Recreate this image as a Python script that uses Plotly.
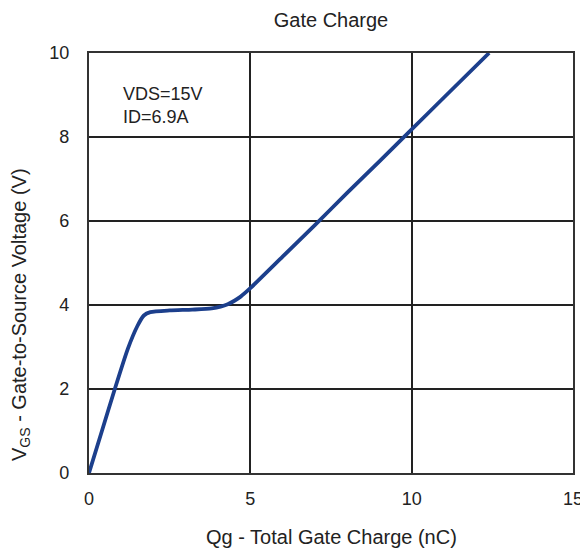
import plotly.graph_objects as go

qg = [0, 0.4, 0.8, 1.2, 1.5, 1.7, 1.9, 2.5, 3.2, 3.8, 4.3, 4.7, 5.0, 6, 7, 8, 9, 10, 11, 12.4]
vgs = [0, 1.0, 2.0, 2.95, 3.5, 3.75, 3.83, 3.87, 3.89, 3.92, 4.02, 4.2, 4.4, 5.15, 5.9, 6.67, 7.42, 8.18, 8.94, 10]
x_ticks = [0, 5, 10, 15]
y_ticks = [0, 2, 4, 6, 8, 10]

FONT = "Liberation Sans, Arial"
TXT = "#222"

# page body has an 8px margin: figure is shifted by (8, 8) in the window
W, H = 580, 542
ML, MR, MT, MB = 81, 15, 45, 77
PW, PH = W - ML - MR, H - MT - MB   # 484 x 420

fig = go.Figure()
fig.add_trace(go.Scatter(x=qg, y=vgs, mode="lines",
                         line=dict(color="#1c3f8c", width=3.8, shape="spline", smoothing=0.6),
                         showlegend=False, hoverinfo="skip"))

fig.add_annotation(x=1.0, y=9.3, xref="x", yref="y", text="VDS=15V<br>ID=6.9A",
                   showarrow=False, xanchor="left", yanchor="top", align="left",
                   font=dict(family=FONT, size=18, color=TXT))

# axis titles
fig.add_annotation(x=0.5, y=-64 / PH, xref="paper", yref="paper",
                   text="Qg - Total Gate Charge (nC)", showarrow=False,
                   xanchor="center", yanchor="middle",
                   font=dict(family=FONT, size=20, color=TXT))
fig.add_annotation(x=-69 / PW, y=158 / PH, xref="paper", yref="paper",
                   text="V<sub>GS</sub> - Gate-to-Source Voltage (V)", showarrow=False,
                   textangle=-90, xanchor="center", yanchor="middle",
                   font=dict(family=FONT, size=20, color=TXT))

axis_common = dict(showline=True, linecolor="#333", linewidth=2.2, mirror=True,
                   showgrid=True, gridcolor="#222", gridwidth=1.8, zeroline=False,
                   automargin=False, ticks="",
                   tickfont=dict(family=FONT, size=18, color=TXT))

fig.update_xaxes(range=[0, 15], tickvals=x_ticks, ticklabelstandoff=8, **axis_common)
fig.update_yaxes(range=[0, 10], tickvals=y_ticks, ticklabelstandoff=14, **axis_common)

fig.update_layout(
    width=W, height=H,
    margin=dict(l=ML, r=MR, t=MT, b=MB, autoexpand=False),
    plot_bgcolor="white", paper_bgcolor="white",
    title=dict(text="Gate Charge", x=(ML + PW / 2) / W, xanchor="center",
               y=1 - 12 / H, yanchor="middle",
               font=dict(family=FONT, size=20, color=TXT)),
)

fig.write_html("out.html")
